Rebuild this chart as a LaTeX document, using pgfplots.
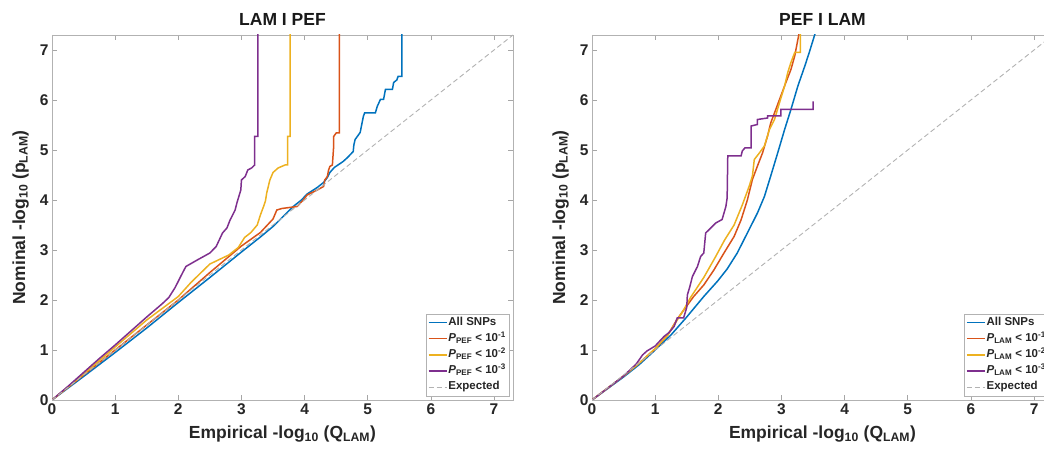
\documentclass[border=0pt]{standalone}
\usepackage{fontspec}
\setmainfont{Liberation Sans}
\usepackage{pgfplots}
\pgfplotsset{compat=1.18}

\definecolor{cA}{RGB}{0,114,189}
\definecolor{cB}{RGB}{217,83,25}
\definecolor{cC}{RGB}{237,177,32}
\definecolor{cD}{RGB}{126,47,142}

\pgfplotsset{
  qq/.style={
    scale only axis, width=461pt, height=365pt, anchor=south west,
    xmin=0, xmax=7.3, ymin=0, ymax=7.3,
    xtick={0,...,7}, ytick={0,...,7},
    tick align=inside, major tick length=5pt,
    axis line style={draw=black!30},
    major tick style={draw=black!35, line width=0.6pt},
    /pgf/number format/assume math mode=true,
    tick label style={font=\fontsize{15.5}{15.5}\selectfont\bfseries, text=black!85},
    every axis x label/.style={at={(axis description cs:0.5,0)}, anchor=base, yshift=-39pt,
      font=\fontsize{17.5}{18}\selectfont\bfseries, text=black!85},
    every axis y label/.style={at={(axis description cs:0,0.5)}, rotate=90, anchor=base, yshift=27pt,
      font=\fontsize{17.5}{18}\selectfont\bfseries, text=black!85},
    every axis title/.style={at={(axis description cs:0.5,1)}, anchor=base, yshift=9.5pt,
      font=\fontsize{17.5}{18}\selectfont\bfseries, text=black!90},
    legend style={at={(1,0)}, anchor=south east, xshift=-4pt, yshift=4pt,
      draw=black!30, fill=white, font=\fontsize{11.5}{11.5}\selectfont\bfseries,
      text=black!85, inner xsep=2pt, inner ysep=2pt, row sep=2.6pt,
      nodes={inner sep=1pt, fill=none, text height=8.5pt, text depth=3pt},
      cells={anchor=west}},
    legend image code/.code={\draw[##1] (0pt,0pt) -- (18pt,0pt);},
    xlabel={Empirical -log\textsubscript{10} (Q\textsubscript{LAM})},
    ylabel={Nominal -log\textsubscript{10} (p\textsubscript{LAM})},
  },
  sA/.style={draw=cA, line width=1.5pt},
  sB/.style={draw=cB, line width=1.5pt},
  sC/.style={draw=cC, line width=1.5pt},
  sD/.style={draw=cD, line width=1.5pt},
  expct/.style={draw=black!30, line width=0.9pt, dash pattern=on 5pt off 3pt},
}

\begin{document}
\begin{tikzpicture}[x=1pt,y=1pt]
\useasboundingbox (0,0) rectangle (1044,452);
\clip (0,0) rectangle (1044,452);

% left panel: LAM | PEF
\begin{axis}[qq, at={(52pt,52pt)}, title={LAM I PEF}]
\addplot[sA] coordinates {
  (0,0)(0.5,0.47)(1,0.95)(1.5,1.44)(2,1.95)(2.5,2.45)(3,2.96)(3.3,3.26)(3.5,3.47)
  (3.7,3.72)(3.82,3.87)(3.95,4.0)(4.04,4.12)(4.2,4.25)(4.3,4.35)(4.36,4.45)(4.4,4.55)
  (4.47,4.65)(4.61,4.77)(4.68,4.85)(4.77,4.97)(4.78,5.1)(4.8,5.21)(4.88,5.35)(4.93,5.67)
  (4.95,5.74)(5.12,5.74)(5.15,5.87)(5.2,6.01)(5.25,6.01)(5.28,6.21)(5.39,6.21)(5.41,6.35)
  (5.46,6.4)(5.48,6.47)(5.54,6.47)(5.54,7.4)};
\addlegendentry{All SNPs}
\addplot[sB] coordinates {
  (0,0)(0.5,0.5)(1,1.0)(1.5,1.5)(2,2.0)(2.5,2.55)(3,3.08)(3.3,3.35)(3.5,3.62)(3.56,3.8)
  (3.64,3.83)(3.88,3.87)(3.98,4.0)(4.04,4.1)(4.2,4.2)(4.3,4.27)(4.32,4.4)(4.36,4.47)
  (4.38,4.6)(4.4,4.67)(4.44,4.7)(4.46,5.07)(4.46,5.27)(4.5,5.34)(4.55,5.34)(4.55,7.4)};
\addlegendentry{\textit{P}\textsubscript{PEF} < 10\textsuperscript{-1}}
\addplot[sC] coordinates {
  (0,0)(0.5,0.52)(1,1.06)(1.5,1.6)(2,2.07)(2.2,2.35)(2.5,2.72)(2.8,2.9)(2.95,3.05)
  (3.05,3.25)(3.15,3.35)(3.25,3.5)(3.3,3.7)(3.35,3.87)(3.38,3.98)(3.4,4.14)(3.45,4.4)
  (3.5,4.55)(3.58,4.64)(3.69,4.7)(3.73,4.7)(3.73,5.27)(3.77,5.27)(3.77,7.4)};
\addlegendentry{\textit{P}\textsubscript{PEF} < 10\textsuperscript{-2}}
\addplot[sD] coordinates {
  (0,0)(0.25,0.27)(0.5,0.55)(0.75,0.83)(1,1.1)(1.25,1.38)(1.5,1.66)(1.75,1.93)(1.85,2.05)
  (1.95,2.25)(2.05,2.5)(2.12,2.67)(2.3,2.8)(2.5,2.94)(2.6,3.07)(2.7,3.34)(2.77,3.44)
  (2.82,3.6)(2.9,3.8)(2.93,3.95)(2.99,4.2)(3.0,4.4)(3.06,4.47)(3.1,4.6)(3.16,4.64)
  (3.21,4.7)(3.21,5.27)(3.26,5.27)(3.26,7.4)};
\addlegendentry{\textit{P}\textsubscript{PEF} < 10\textsuperscript{-3}}
\addplot[expct] coordinates {(0,0)(7.3,7.3)};
\addlegendentry{Expected}
\end{axis}

% right panel: PEF | LAM
\begin{axis}[qq, at={(592pt,52pt)}, title={PEF I LAM}]
\addplot[sA] coordinates {
  (0,0)(0.25,0.23)(0.5,0.46)(0.75,0.71)(1,1.0)(1.25,1.3)(1.5,1.66)(1.77,2.07)(1.99,2.38)
  (2.14,2.62)(2.3,2.94)(2.46,3.34)(2.62,3.74)(2.73,4.07)(2.83,4.48)(2.94,4.94)(3.05,5.41)
  (3.15,5.81)(3.26,6.28)(3.37,6.68)(3.44,6.95)(3.55,7.4)};
\addlegendentry{All SNPs}
\addplot[sB] coordinates {
  (0,0)(0.25,0.24)(0.5,0.48)(0.75,0.74)(1,1.02)(1.2,1.3)(1.35,1.62)(1.5,1.88)(1.61,2.07)
  (1.77,2.3)(1.93,2.6)(2.09,2.94)(2.25,3.27)(2.36,3.6)(2.46,4.0)(2.54,4.41)(2.62,4.68)
  (2.7,4.94)(2.78,5.28)(2.83,5.54)(2.91,5.81)(2.99,6.08)(3.07,6.35)(3.15,6.61)(3.21,6.88)
  (3.26,7.21)(3.29,7.4)};
\addlegendentry{\textit{P}\textsubscript{LAM} < 10\textsuperscript{-1}}
\addplot[sC] coordinates {
  (0,0)(0.25,0.24)(0.5,0.48)(0.75,0.74)(1,1.03)(1.2,1.3)(1.3,1.5)(1.45,1.8)(1.56,2.05)
  (1.77,2.45)(1.95,2.85)(2.1,3.2)(2.25,3.5)(2.38,3.9)(2.49,4.28)(2.54,4.48)(2.57,4.81)
  (2.65,4.94)(2.73,5.08)(2.81,5.41)(2.89,5.61)(2.97,5.95)(3.05,6.28)(3.1,6.55)(3.15,6.75)
  (3.21,6.95)(3.3,6.95)(3.3,7.4)};
\addlegendentry{\textit{P}\textsubscript{LAM} < 10\textsuperscript{-2}}
\addplot[sD] coordinates {
  (0,0)(0.25,0.24)(0.5,0.48)(0.7,0.72)(0.8,0.9)(0.87,0.98)(1.0,1.08)(1.14,1.27)(1.22,1.35)
  (1.3,1.47)(1.35,1.64)(1.45,1.64)(1.5,1.85)(1.51,2.1)(1.55,2.27)(1.59,2.47)(1.67,2.67)
  (1.72,2.87)(1.77,2.94)(1.8,3.34)(1.88,3.44)(1.96,3.54)(2.06,3.61)(2.09,3.74)(2.12,3.87)
  (2.14,4.04)(2.15,4.88)(2.36,4.88)(2.38,4.98)(2.42,5.04)(2.52,5.04)(2.52,5.48)(2.62,5.51)
  (2.62,5.61)(2.78,5.64)(2.78,5.68)(2.99,5.68)(2.99,5.81)(3.5,5.81)(3.5,5.97)};
\addlegendentry{\textit{P}\textsubscript{LAM} < 10\textsuperscript{-3}}
\addplot[expct] coordinates {(0,0)(7.3,7.3)};
\addlegendentry{Expected}
\end{axis}
\end{tikzpicture}
\end{document}
